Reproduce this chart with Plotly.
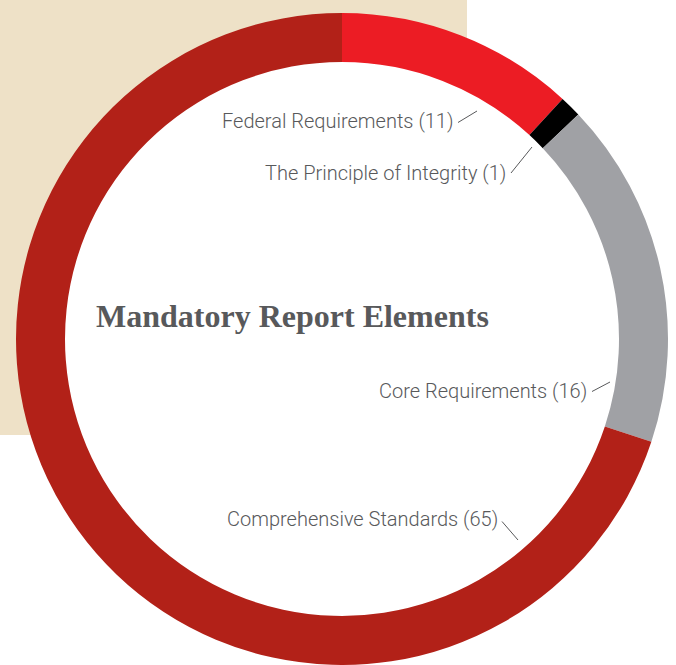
import plotly.graph_objects as go

# ---- data ----
categories = ["Federal Requirements", "The Principle of Integrity",
              "Core Requirements", "Comprehensive Standards"]
counts = [11, 1, 16, 65]
slice_colors = ["#EC1C24", "#000000", "#A0A1A5", "#B22118"]
title_text = "Mandatory Report Elements"

# ---- layout helpers (pixel -> paper) ----
W, H = 676, 665
def px(x):
    return x / W
def py(y):
    return 1 - y / H

CX, CY, R = 342, 339, 326
HOLE = 277 / 326

fig = go.Figure()
fig.add_trace(go.Pie(
    labels=categories,
    values=counts,
    sort=False,
    direction="clockwise",
    rotation=0,
    hole=HOLE,
    textinfo="none",
    hoverinfo="label+value",
    marker=dict(colors=slice_colors, line=dict(width=0)),
    domain=dict(x=[px(CX - R), px(CX + R)], y=[py(CY + R), py(CY - R)]),
    showlegend=False,
))

shapes = [
    dict(type="rect", xref="paper", yref="paper", x0=0, x1=px(467), y0=py(435), y1=1,
         fillcolor="#EEE1C7", line=dict(width=0), layer="below"),
    dict(type="circle", xref="paper", yref="paper",
         x0=px(CX - 295), x1=px(CX + 295), y0=py(CY + 295), y1=py(CY - 295),
         fillcolor="#FFFFFF", line=dict(width=0), layer="below"),
]

# label placements: (text right edge x, text center y, leader start, leader end)
label_layout = [
    (455, 121, (458, 122.5), (477, 111)),
    (508, 173, (511, 173), (532, 147)),
    (589, 391, (592, 391.5), (610, 382)),
    (500, 519, (502, 521.5), (518, 540)),
]

label_font = dict(family="Roboto, Liberation Sans, sans-serif", size=20,
                  color="#58595B", weight=300)

annotations = []
for name, n, (tx, ty, a, b) in zip(categories, counts, label_layout):
    annotations.append(dict(
        x=px(tx), y=py(ty), xref="paper", yref="paper",
        xanchor="right", yanchor="middle", showarrow=False,
        text=f"{name} ({n})",
        font=label_font,
    ))
    shapes.append(dict(type="line", xref="paper", yref="paper",
                       x0=px(a[0]), y0=py(a[1]), x1=px(b[0]), y1=py(b[1]),
                       line=dict(color="#58595B", width=1)))

annotations.append(dict(
    x=px(94), y=py(316), xref="paper", yref="paper",
    xanchor="left", yanchor="middle", showarrow=False,
    text=f"<b>{title_text}</b>",
    font=dict(family="Liberation Serif, DejaVu Serif, serif", size=32, color="#58595B"),
))

fig.update_layout(
    width=W, height=H,
    margin=dict(l=0, r=0, t=0, b=0),
    paper_bgcolor="#FFFFFF",
    plot_bgcolor="#FFFFFF",
    shapes=shapes,
    annotations=annotations,
)

fig.write_html("out.html", config={"displayModeBar": False},
               post_script="document.body.style.margin='0';")
